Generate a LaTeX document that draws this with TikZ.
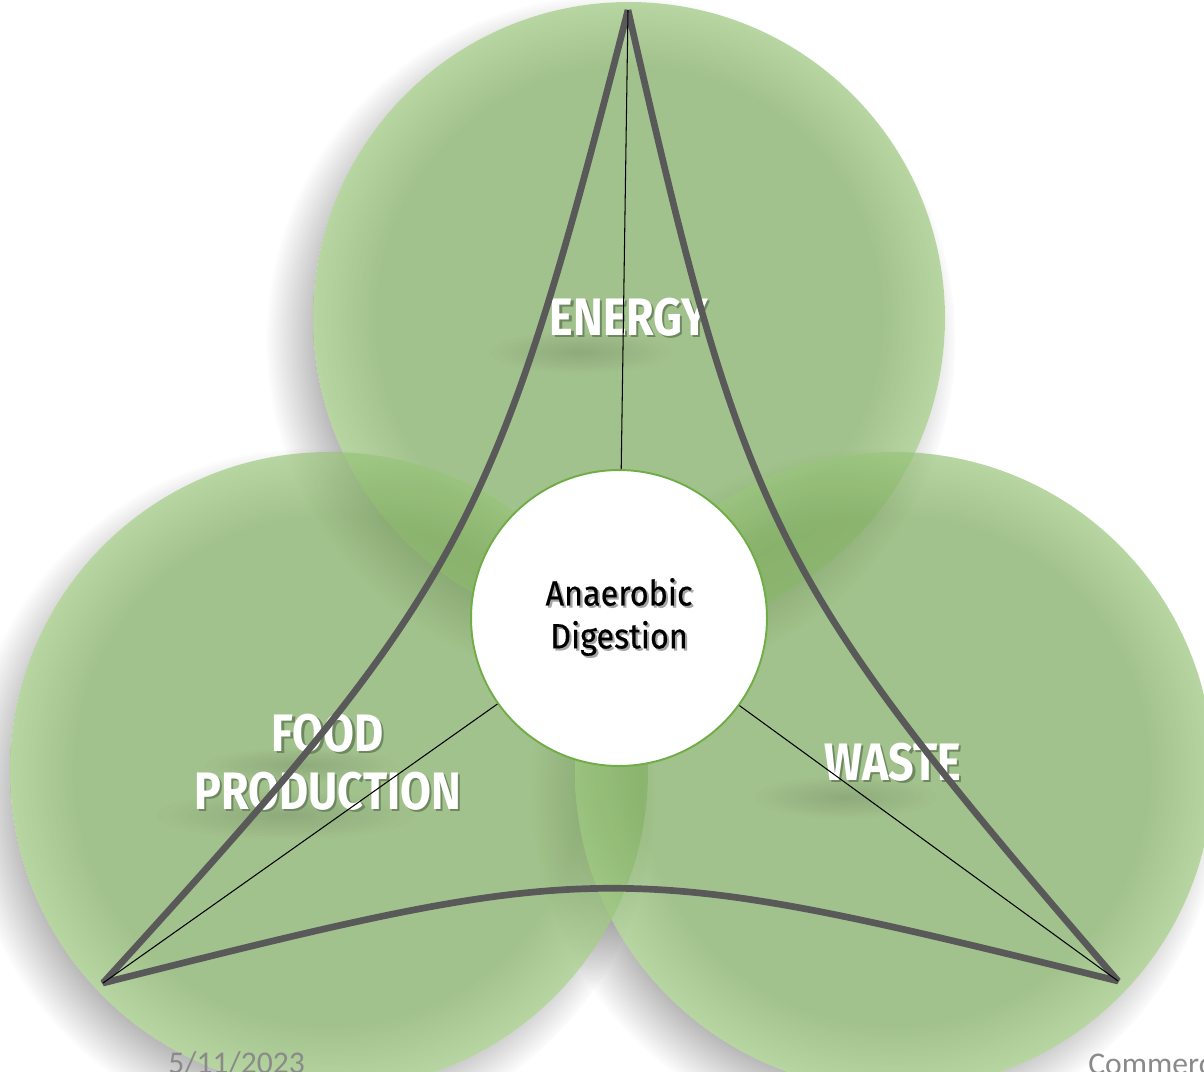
\documentclass[tikz,border=0pt]{standalone}
\usepackage{fontspec}
\setmainfont{Fira Sans}
\newfontfamily\headfont{Fira Sans}[FakeStretch=0.85]
\newfontfamily\hubfont{Fira Sans}[FakeStretch=0.92, FakeBold=0.4]
\newfontfamily\datefont{Carlito}
\usetikzlibrary{fadings}

\definecolor{leafgreen}{RGB}{123,168,92}
\definecolor{leaflight}{RGB}{152,196,122}
\definecolor{rimgreen}{RGB}{112,173,71}
\definecolor{framegray}{RGB}{89,89,89}
\definecolor{footgray}{RGB}{138,138,138}
\definecolor{headcast}{RGB}{110,136,96}
\definecolor{hubcast}{RGB}{165,165,165}

% lighter green towards the rim of each circle
\pgfdeclareradialshading{leafrim}{\pgfpoint{0bp}{0bp}}{color(0bp)=(leafgreen); color(20bp)=(leafgreen); color(25bp)=(leaflight); color(50bp)=(leaflight)}
\tikzfading[name=soft blob, inner color=transparent!0, outer color=transparent!100]

% text with a small cast shadow behind it
\newcommand\castshadow[2]{\leavevmode\rlap{\kern1.2pt\raisebox{-1.2pt}{\textcolor{#1}{#2}}}#2}

\begin{document}
\begin{tikzpicture}
     [x=0.02cm, y=-0.02cm,
     leaf/.style={shading=leafrim, fill opacity=0.7},
     leafshadow/.style={fill=black, opacity=0.35, path fading=circle with fuzzy edge 20 percent},
     blob/.style={fill=black, opacity=0.12, path fading=soft blob},
     headline/.style={text=white, font=\headfont\bfseries\fontsize{30}{33}\selectfont, align=center, inner sep=0},
     hub/.style={circle, draw=rimgreen, line width=1.1pt, fill=white, minimum size=5.92cm, inner sep=0},
     hubtext/.style={text=black, font=\hubfont\fontsize{20}{24.4}\selectfont, align=center, inner sep=0},
     spoke/.style={black, line width=0.6pt},
     frame/.style={framegray, line width=3.8pt, line join=bevel},
     footer/.style={text=footgray, font=\datefont\fontsize{18}{22}\selectfont, anchor=base west, inner sep=0},
     ]
 \useasboundingbox (0,0) rectangle (1204,1072);
 \clip (0,0) rectangle (1204,1072);

 % drop shadows, each one kept outside its own circle
 \begin{scope}[even odd rule]
  \clip (0,0) rectangle (1204,1072) (629,318) circle (316);
  \fill[leafshadow] (611,340) circle (345);
 \end{scope}
 \begin{scope}[even odd rule]
  \clip (0,0) rectangle (1204,1072) (329,771) circle (319);
  \fill[leafshadow] (311,793) circle (345);
 \end{scope}
 \begin{scope}[even odd rule]
  \clip (0,0) rectangle (1204,1072) (894,771) circle (319);
  \fill[leafshadow] (876,793) circle (345);
 \end{scope}

 \shade[leaf] (629,318) circle (316);
 \shade[leaf] (329,771) circle (319);
 \shade[leaf] (894,771) circle (319);

 % soft shadows below the headings
 \fill[blob] (580,352) ellipse (95 and 22);
 \fill[blob] (300,765) ellipse (100 and 18);
 \fill[blob] (285,815) ellipse (135 and 25);
 \fill[blob] (845,797) ellipse (95 and 22);

 \node[headline] (energy) at (629,318) {\castshadow{headcast}{ENERGY}};
 \node[headline] (food)   at (328,763) {\castshadow{headcast}{FOOD}\\\castshadow{headcast}{PRODUCTION}};
 \node[headline] (waste)  at (893,763) {\castshadow{headcast}{WASTE}};

 % curved triangle
 \coordinate (top)   at (628,10);
 \coordinate (left)  at (103,983);
 \coordinate (right) at (1118,981);
 \draw[frame] (top) to[bend left=14, looseness=1.25] (left)
                    to[bend left=14, looseness=1.3] (right)
                    to[bend left=14, looseness=1.25] (top);

 \node[hub] (ad) at (619,618) {};
 \draw[spoke] (ad) -- (top);
 \draw[spoke] (ad) -- (left);
 \draw[spoke] (ad) -- (right);
 \node[hubtext] (adtext) at (619,618) {\castshadow{hubcast}{Anaerobic}\\\castshadow{hubcast}{Digestion}};

 \node[footer] (date) at (168,1073) {5/11/2023};
 \node[footer] (dept) at (1088,1074) {Commerc};
\end{tikzpicture}
\end{document}
